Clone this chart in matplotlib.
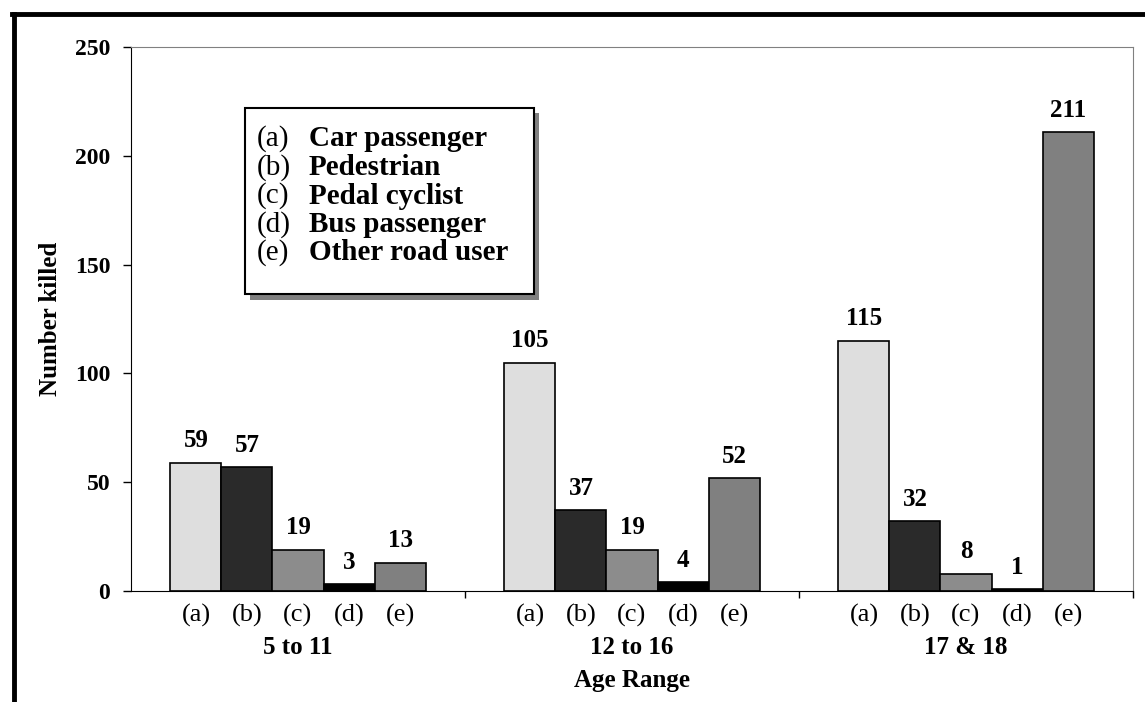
import matplotlib
matplotlib.use("Agg")
import matplotlib.pyplot as plt
import matplotlib.transforms as mtransforms
from matplotlib.patches import Rectangle
from matplotlib.lines import Line2D
import numpy as np

plt.rcParams['font.family'] = ['Liberation Serif', 'DejaVu Serif']

# data
groups = ['5 to 11', '12 to 16', '17 & 18']
sub_labels = ['(a)', '(b)', '(c)', '(d)', '(e)']
users = ['Car passenger', 'Pedestrian', 'Pedal cyclist', 'Bus passenger', 'Other road user']
car_passenger = [59, 105, 115]
pedestrian = [57, 37, 32]
pedal_cyclist = [19, 19, 8]
bus_passenger = [3, 4, 1]
other_road_user = [13, 52, 211]

series = [car_passenger, pedestrian, pedal_cyclist, bus_passenger, other_road_user]
colors = ['#dedede', '#2a2a2a', '#8c8c8c', '#000000', '#808080']

W, H = 1145, 702
fig = plt.figure(figsize=(W / 100, H / 100), dpi=100)

def px(x0, y0, x1, y1):
    # pixel box -> figure fraction [left, bottom, width, height]
    return [x0 / W, 1 - y1 / H, (x1 - x0) / W, (y1 - y0) / H]

ax = fig.add_axes(px(131, 47, 1133, 591))

x = np.arange(len(groups))
bw = 0.1527
for i, vals in enumerate(series):
    pos = x + (i - 2) * bw
    ax.bar(pos, vals, width=bw, color=colors[i], edgecolor='black', linewidth=1.2, zorder=2)
    for p, v in zip(pos, vals):
        ax.annotate(str(v), (p, v), xytext=(0, 11), textcoords='offset points',
                    ha='center', va='baseline', fontsize=18, fontweight='bold')

ax.set_xlim(-0.5, 2.5)
ax.set_ylim(0, 250)
ax.set_yticks([0, 50, 100, 150, 200, 250])
ax.tick_params(axis='y', direction='out', length=6, width=1, labelsize=17, pad=9)
for lab in ax.get_yticklabels():
    lab.set_fontweight('bold')

# sub labels under each bar, group boundaries as tick marks
sub_pos = [g + (i - 2) * bw for g in x for i in range(5)]
ax.set_xticks(sub_pos)
ax.set_xticklabels(sub_labels * len(groups), fontsize=19)
ax.tick_params(axis='x', which='major', length=0, pad=9)
ax.set_xticks([0.5, 1.5, 2.5], minor=True)
ax.tick_params(axis='x', which='minor', direction='out', length=5, width=1)

trans = mtransforms.blended_transform_factory(ax.transData, ax.transAxes)
for g, name in zip(x, groups):
    ax.text(g, -0.103, name, transform=trans, ha='center', va='center',
            fontsize=18, fontweight='bold')
ax.text(1, -0.164, 'Age Range', transform=trans, ha='center', va='center',
        fontsize=18, fontweight='bold')

ax.set_ylabel('Number killed', fontsize=18, fontweight='bold', labelpad=9)

ax.spines['top'].set_color('#808080')
ax.spines['right'].set_color('#808080')
ax.spines['left'].set_color('black')
ax.spines['bottom'].set_color('black')

# legend box with shadow
sh = px(250, 113, 539, 300)
fig.patches.append(Rectangle((sh[0], sh[1]), sh[2], sh[3], transform=fig.transFigure,
                             facecolor='#808080', edgecolor='none', zorder=5))
box = px(245, 108, 534, 294)
fig.patches.append(Rectangle((box[0], box[1]), box[2], box[3], transform=fig.transFigure,
                             facecolor='white', edgecolor='black', linewidth=1.5, zorder=6))
for k, (s, u) in enumerate(zip(sub_labels, users)):
    yy = 1 - (139 + k * 28.5) / H
    fig.text(257 / W, yy, s, ha='left', va='center', fontsize=21, zorder=7)
    fig.text(309 / W, yy, u, ha='left', va='center', fontsize=21, fontweight='bold', zorder=7)

# outer frame (top and left)
fig.lines.append(Line2D([14 / W, 14 / W], [0, 1 - 14 / H], transform=fig.transFigure,
                        color='black', linewidth=3.5))
fig.lines.append(Line2D([12 / W, 1], [1 - 14 / H, 1 - 14 / H], transform=fig.transFigure,
                        color='black', linewidth=3.5))

fig.savefig('out.png', dpi=100)
